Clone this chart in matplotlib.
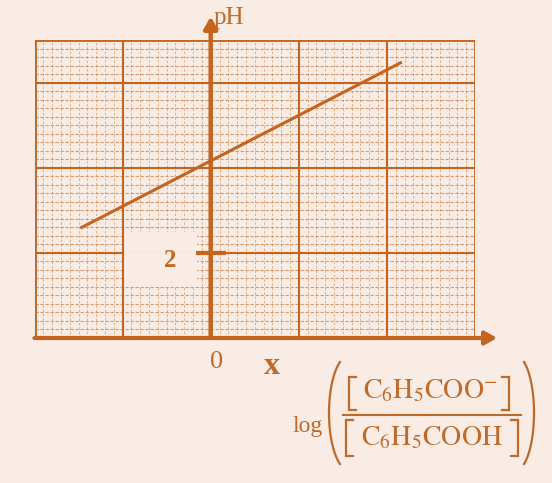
import numpy as np
import matplotlib
matplotlib.use("Agg")
import matplotlib.pyplot as plt
from matplotlib.patches import Rectangle, FancyArrowPatch

# Henderson-Hasselbalch plot for benzoic acid / benzoate buffer
log_ratio = [-1.48, 2.17]
ph_values = [2.58, 6.48]

x_major = [-1, 1, 2]
ph_major = [2, 4, 6]
ph_tick = 2

paper = "#f8ece4"
ink = "#c4641f"
text_ink = "#c06a2a"

plt.rcParams["mathtext.fontset"] = "stix"
plt.rcParams["font.family"] = ["Liberation Serif", "DejaVu Serif"]

fig = plt.figure(figsize=(5.52, 4.83), dpi=100, facecolor=paper)
ax = fig.add_axes([34.5 / 552, 1 - 338 / 483, (475 - 34.5) / 552, (338 - 40) / 483])
ax.set_facecolor(paper)
ax.set_xlim(-2, 3)
ax.set_ylim(0, 7)
ax.axis("off")

# fine graph-paper texture
for xm in np.arange(-2, 3.001, 0.1):
    ax.plot([xm, xm], [0, 7], color=ink, lw=0.7, alpha=0.45,
            ls=(0, (2.5, 2.0)), zorder=1)
for ym in np.arange(0, 7.001, 0.2):
    ax.plot([-2, 3], [ym, ym], color=ink, lw=0.8, alpha=0.6,
            ls=(0, (3.0, 1.5)), zorder=1)

# blank patch behind the "2" label
ax.add_patch(Rectangle((-0.97, 1.2), 0.82, 1.3, facecolor=paper,
                       edgecolor="none", zorder=2))

# major grid
for xv in x_major:
    ax.plot([xv, xv], [0, 7], color=ink, lw=1.5, zorder=3)
for yv in ph_major:
    ax.plot([-2, 3], [yv, yv], color=ink, lw=1.5, zorder=2)
ax.plot([-0.97, -0.15], [2, 2], color=paper, lw=2.5, zorder=2.5)

# outer frame
ax.plot([-2, -2, 3, 3], [0, 7, 7, 0], color=ink, lw=2.0, zorder=3,
        solid_joinstyle="miter")

# axes with arrows
ax.add_patch(FancyArrowPatch((-2, 0), (3.25, 0), arrowstyle="-|>,head_length=7,head_width=4",
                             color=ink, lw=3.0, clip_on=False, zorder=4,
                             shrinkA=0, shrinkB=0))
ax.add_patch(FancyArrowPatch((0, 0), (0, 7.55), arrowstyle="-|>,head_length=7,head_width=4",
                             color=ink, lw=3.2, clip_on=False, zorder=4,
                             shrinkA=0, shrinkB=0))

# tick for pH = 2
ax.plot([-0.17, 0.17], [ph_tick, ph_tick], color=ink, lw=3.0, zorder=4,
        solid_capstyle="butt")

# buffer line
ax.plot(log_ratio, ph_values, color=ink, lw=2.2, zorder=5, solid_capstyle="butt")

# labels
ax.text(0.03, 7.52, "pH", color=text_ink, fontsize=18, ha="left", va="center",
        clip_on=False)
ax.text(-0.46, 1.83, str(ph_tick), color=text_ink, fontsize=18, fontweight="bold",
        ha="center", va="center", zorder=6)
ax.text(0.07, -0.57, "0", color=text_ink, fontsize=19, ha="center", va="center",
        clip_on=False)
ax.text(0.69, -0.66, "x", color=text_ink, fontsize=23, fontweight="bold",
        ha="center", va="center", clip_on=False)

# x-axis caption, laid out in pixel space
lab = fig.add_axes([0, 0, 1, 1])
lab.set_xlim(0, 552)
lab.set_ylim(483, 0)
lab.axis("off")
lab.patch.set_alpha(0)

lab.text(308, 432, "log", color=text_ink, fontsize=17, ha="center", va="baseline")
lab.text(430, 398, r"$\mathrm{C_6H_5COO^{-}}$", color=text_ink, fontsize=20,
         ha="center", va="baseline")
lab.text(432, 445, r"$\mathrm{C_6H_5COOH}$", color=text_ink, fontsize=20,
         ha="center", va="baseline")
lab.plot([343, 521], [415, 415], color=text_ink, lw=1.5)


def bracket(x0, x1, top, bottom, serif=7):
    lab.plot([x0 + serif, x0, x0, x0 + serif], [top, top, bottom, bottom],
             color=text_ink, lw=1.6, solid_joinstyle="miter")
    lab.plot([x1 - serif, x1, x1, x1 - serif], [top, top, bottom, bottom],
             color=text_ink, lw=1.6, solid_joinstyle="miter")


bracket(349, 509, 377, 410)
bracket(346, 518, 420, 456)


def paren(x_end, bulge, yc=413, half=51, span=1.1):
    # bulge < 0 opens to the right, > 0 opens to the left
    t = np.linspace(-span, span, 80)
    xs = x_end + bulge * (np.cos(t) - np.cos(span)) / (1 - np.cos(span))
    ys = yc + half * np.sin(t) / np.sin(span)
    lab.plot(xs, ys, color=text_ink, lw=1.6)


paren(340, -11)
paren(524, 10)

fig.savefig("out.png", dpi=100, facecolor=paper)
